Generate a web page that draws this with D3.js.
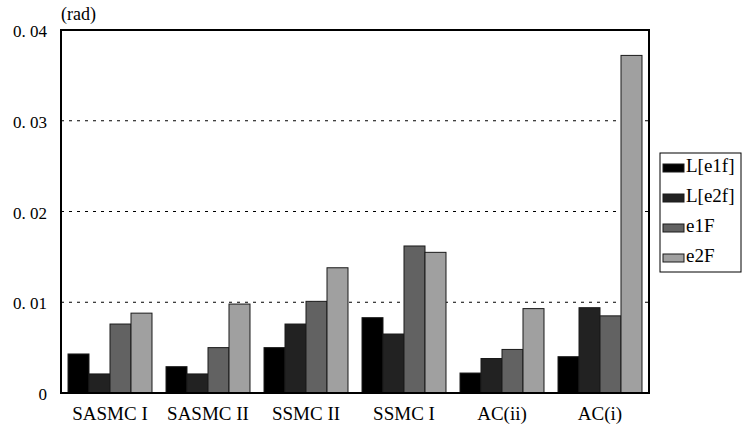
<!DOCTYPE html>
<html>
<head>
<meta charset="utf-8">
<script src="https://cdn.jsdelivr.net/npm/d3@7"></script>
<style>
  html, body { margin: 0; padding: 0; background: #fff; overflow: hidden; }
  svg { display: block; }
</style>
</head>
<body>
<svg id="chart" width="743" height="433"></svg>
<script>
const categories = ["SASMC I", "SASMC II", "SSMC II", "SSMC I", "AC(ii)", "AC(i)"]
const seriesNames = ["L[e1f]", "L[e2f]", "e1F", "e2F"]
const seriesColors = ["#000000", "#222222", "#626262", "#a0a0a0"]
const L_e1f = [0.0043, 0.0029, 0.0050, 0.0083, 0.0022, 0.0040]
const L_e2f = [0.0021, 0.0021, 0.0076, 0.0065, 0.0038, 0.0094]
const e1F = [0.0076, 0.0050, 0.0101, 0.0162, 0.0048, 0.0085]
const e2F = [0.0088, 0.0098, 0.0138, 0.0155, 0.0093, 0.0372]
const yTicks = [0, 0.01, 0.02, 0.03, 0.04]
const yTickLabels = ["0", "0. 01", "0. 02", "0. 03", "0. 04"]

const FONT = "'Liberation Serif', 'Times New Roman', Times, serif"
const series = [L_e1f, L_e2f, e1F, e2F]
const margin = {left: 61, top: 30, right: 94, bottom: 40}
const width = 743, height = 433
const innerWidth = width - margin.left - margin.right
const innerHeight = height - margin.top - margin.bottom

const svg = d3.select('#chart')
const g = svg.append('g').attr('transform', `translate(${margin.left},${margin.top})`)

const x = d3.scaleBand().domain(categories).range([0, innerWidth]).paddingInner(0.143).paddingOuter(0.0715)
const xs = d3.scaleBand().domain(seriesNames).range([0, x.bandwidth()])
const y = d3.scaleLinear().domain([0, 0.04]).range([innerHeight, 0])

// dashed grid
g.selectAll('.grid').data(yTicks.filter(d => d > 0 && d < 0.04))
  .enter().append('line')
  .attr('x1', 0).attr('x2', innerWidth)
  .attr('y1', d => y(d)).attr('y2', d => y(d))
  .attr('stroke', '#000').attr('stroke-width', 1)
  .attr('stroke-dasharray', '3,5')

// bars
const groups = g.selectAll('.grp').data(categories).enter().append('g')
  .attr('transform', d => `translate(${x(d)},0)`)
groups.selectAll('rect')
  .data((c, i) => series.map((s, j) => ({name: seriesNames[j], value: s[i], color: seriesColors[j]})))
  .enter().append('rect')
  .attr('x', d => xs(d.name))
  .attr('y', d => y(d.value))
  .attr('width', xs.bandwidth())
  .attr('height', d => innerHeight - y(d.value))
  .attr('fill', d => d.color)
  .attr('stroke', '#1a1a1a').attr('stroke-width', 1)

// frame
g.append('rect').attr('x', 0).attr('y', 0).attr('width', innerWidth).attr('height', innerHeight)
  .attr('fill', 'none').attr('stroke', '#000').attr('stroke-width', 2)

// y labels
yTicks.forEach((d, i) => {
  svg.append('text')
    .attr('x', margin.left - 14).attr('y', margin.top + y(d) + 7)
    .attr('text-anchor', 'end')
    .style('font-family', FONT).style('font-size', '17px')
    .text(yTickLabels[i])
})

svg.append('text').attr('x', margin.left).attr('y', margin.top - 10)
  .style('font-family', FONT).style('font-size', '18px').text('(rad)')

// x labels
categories.forEach(c => {
  svg.append('text')
    .attr('x', margin.left + x(c) + x.bandwidth() / 2).attr('y', margin.top + innerHeight + 27)
    .attr('text-anchor', 'middle')
    .style('font-family', FONT).style('font-size', '19px')
    .text(c)
})

// legend
const legend = svg.append('g').attr('transform', 'translate(660,153)')
legend.append('rect').attr('width', 81).attr('height', 119)
  .attr('fill', '#fff').attr('stroke', '#000').attr('stroke-width', 1)
seriesNames.forEach((n, i) => {
  const row = legend.append('g').attr('transform', `translate(3,${11 + i * 30})`)
  row.append('rect').attr('width', 21).attr('height', 8)
    .attr('fill', seriesColors[i]).attr('stroke', '#1a1a1a')
  row.append('text').attr('x', 23).attr('y', 8)
    .style('font-family', FONT).style('font-size', '19px').text(n)
})
</script>
</body>
</html>
